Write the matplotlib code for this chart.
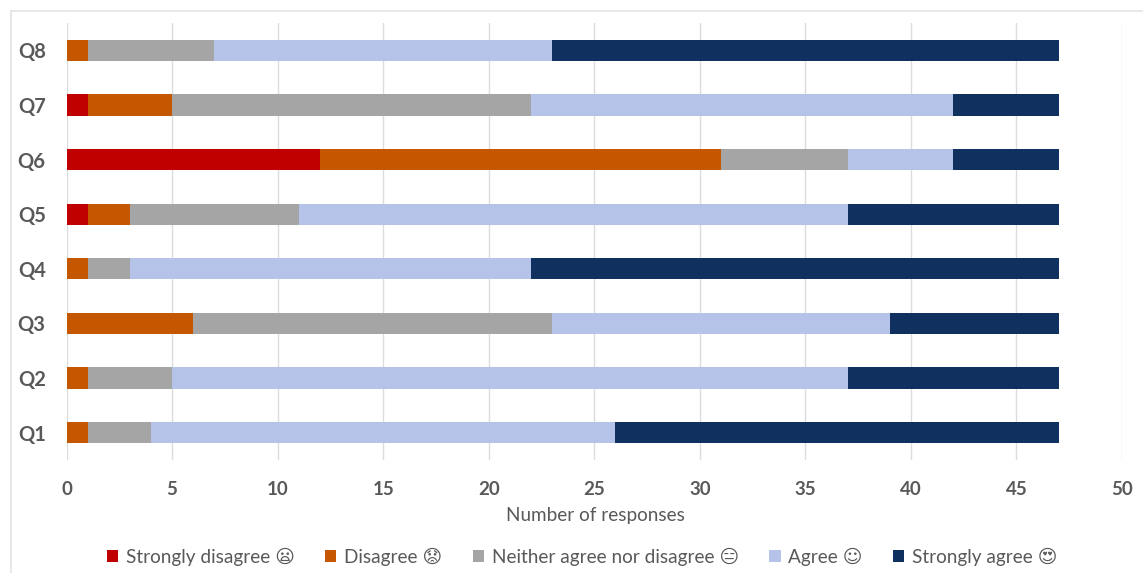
import numpy as np
import matplotlib
matplotlib.use('Agg')
import matplotlib.pyplot as plt
from matplotlib.lines import Line2D

questions = ['Q1', 'Q2', 'Q3', 'Q4', 'Q5', 'Q6', 'Q7', 'Q8']
strongly_disagree = [0, 0, 0, 0, 1, 12, 1, 0]
disagree = [1, 1, 6, 1, 2, 19, 4, 1]
neither = [3, 4, 17, 2, 8, 6, 17, 6]
agree = [22, 32, 16, 19, 26, 5, 20, 16]
strongly_agree = [21, 10, 8, 25, 10, 5, 5, 24]

series_labels = ['Strongly disagree \U0001F626', 'Disagree \U0001F61F',
                 'Neither agree nor disagree \U0001F611', 'Agree \u263A',
                 'Strongly agree \U0001F60D']
colors = ['#C00000', '#C45700', '#A5A5A5', '#B4C3E7', '#10305F']
x_ticks = list(range(0, 55, 5))

W, H = 1143, 573
text_color = '#595959'
plt.rcParams['font.family'] = ['Lato', 'DejaVu Sans']

fig = plt.figure(figsize=(W / 100, H / 100), dpi=100)
ax = fig.add_axes([66.5 / W, 1 - 460 / H, (1122 - 66.5) / W, (460 - 23) / H])

# stacked horizontal bars, one row per question
left = np.zeros(len(questions))
for values, label, color in zip([strongly_disagree, disagree, neither, agree, strongly_agree],
                                series_labels, colors):
    ax.barh(questions, values, left=left, height=0.39, color=color, label=label, zorder=3)
    left += np.array(values)

ax.set_xlim(0, 50)
ax.set_ylim(-0.5, 7.5)
ax.set_xticks(x_ticks)
ax.grid(axis='x', color='#DCDCDC', linewidth=1.0, zorder=0)
ax.set_axisbelow(True)
for spine in ax.spines.values():
    spine.set_visible(False)
ax.tick_params(axis='both', length=0)
ax.tick_params(axis='x', pad=15, labelsize=13.5, labelcolor=text_color)
ax.tick_params(axis='y', pad=15, labelsize=14.5, labelcolor=text_color)
for t in ax.get_xticklabels() + ax.get_yticklabels():
    t.set_fontweight('bold')

fig.text(595 / W, 1 - 515 / H, 'Number of responses', ha='center', va='center',
         fontsize=13.6, color=text_color)

# chart border, only the top and left edges are visible
fig.add_artist(Line2D([11 / W, 11 / W], [0, 1 - 11 / H], color='#E4E4E4', linewidth=1.2))
fig.add_artist(Line2D([11 / W, 1], [1 - 11 / H, 1 - 11 / H], color='#E4E4E4', linewidth=1.2))

handles, labels = ax.get_legend_handles_labels()
fig.legend(handles, labels, loc='center', bbox_to_anchor=(582 / W, 1 - 557 / H), ncol=5,
           frameon=False, fontsize=13.7, labelcolor=text_color, handlelength=0.6,
           handleheight=0.6, handletextpad=0.4, columnspacing=1.6)

fig.savefig('out.png', dpi=100)
